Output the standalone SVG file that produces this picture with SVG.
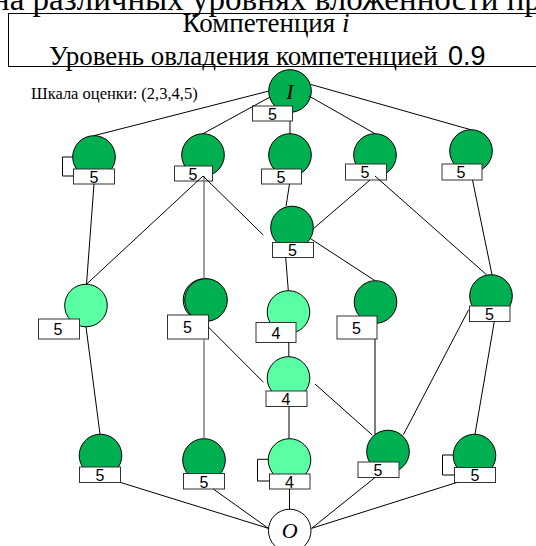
<svg xmlns="http://www.w3.org/2000/svg" width="536" height="546" viewBox="0 0 536 546">
<style>
.dk{fill:#00B050;stroke:#000;stroke-width:1}
.lt{fill:#59FFA2;stroke:#000;stroke-width:1}
.wh{fill:#fff;stroke:#000;stroke-width:1}
.bx{fill:#fff;stroke:#333;stroke-width:1}
.n{font-family:"Liberation Sans",Arial,sans-serif;font-size:16px;text-anchor:middle;fill:#000}
.lbl{font-family:"Liberation Serif","Times New Roman",serif;font-style:italic;font-size:22px;text-anchor:middle;fill:#000}
.sf{font-family:"Liberation Serif","Times New Roman",serif;fill:#000}
#edges line,#edges path{stroke:#000;stroke-width:1;fill:none}
#edges .g{stroke:#777;stroke-width:1.4}
</style>
<rect width="536" height="546" fill="#fff"/>
<text class="sf" x="-8" y="10" font-size="33">на различных уровнях вложенности пр</text>
<g id="header">
<rect x="8.5" y="13.5" width="540" height="53" fill="none" stroke="#000"/>
<text class="sf" x="266" y="32" font-size="27" text-anchor="middle">Компетенция <tspan font-style="italic">i</tspan></text>
<text class="sf" x="49" y="65" font-size="27">Уровень овладения компетенцией</text>
<text x="448" y="65" font-size="27" font-family="Liberation Sans,Arial,sans-serif">0.9</text>
</g>
<text class="sf" x="31" y="99" font-size="16.5">Шкала оценки: (2,3,4,5)</text>

<g id="nI"><circle class="dk" cx="290" cy="91" r="21.3"/><text class="lbl" x="290" y="99">I</text><rect class="bx" x="252.5" y="106" width="40" height="15"/><text class="n" x="272.5" y="119.5">5</text></g>
<g id="nA1"><circle class="dk" cx="94" cy="157" r="21.3"/><rect class="bx" x="73.5" y="169" width="41" height="15"/><text class="n" x="94" y="182.5">5</text></g>
<g id="nA2"><circle class="dk" cx="203" cy="155" r="21.3"/><rect class="bx" x="174.5" y="166" width="38" height="15"/><text class="n" x="193" y="179.5">5</text></g>
<g id="nA3"><circle class="dk" cx="290" cy="155" r="21.3"/><rect class="bx" x="261.5" y="169" width="40" height="15"/><text class="n" x="281" y="182.5">5</text></g>
<g id="nA4"><circle class="dk" cx="375" cy="155" r="21.3"/><rect class="bx" x="345.5" y="164" width="41" height="16"/><text class="n" x="365" y="178">5</text></g>
<g id="nA5"><circle class="dk" cx="471" cy="151" r="21.3"/><rect class="bx" x="442" y="164" width="40" height="16"/><text class="n" x="461" y="178">5</text></g>
<g id="nB"><circle class="dk" cx="292" cy="227.5" r="21.3"/><rect class="bx" x="272.5" y="242.5" width="41" height="15"/><text class="n" x="292.5" y="256">5</text></g>
<g id="nC1"><circle class="lt" cx="86" cy="305.5" r="21.3"/><rect class="bx" x="38.5" y="319" width="41" height="20"/><text class="n" x="58" y="335">5</text></g>
<g id="nC2"><circle class="lt" cx="204.5" cy="300" r="21.3"/><circle class="dk" cx="206" cy="300" r="21.3"/><rect class="bx" x="167.5" y="315" width="41" height="24"/><text class="n" x="187.5" y="333">5</text></g>
<g id="nC3"><circle class="lt" cx="288.5" cy="312" r="21.3"/><rect class="bx" x="256" y="322.5" width="40" height="20"/><text class="n" x="276" y="338.5">4</text></g>
<g id="nC4"><circle class="dk" cx="375.5" cy="302" r="21.3"/><rect class="bx" x="337" y="316" width="40" height="23"/><text class="n" x="356.5" y="333.5">5</text></g>
<g id="nC5"><circle class="dk" cx="491" cy="296" r="21.3"/><rect class="bx" x="469.5" y="306" width="40.5" height="15.5"/><text class="n" x="489.5" y="320">5</text></g>
<g id="nD"><circle class="lt" cx="288.5" cy="378" r="21.3"/><rect class="bx" x="266" y="391" width="41" height="15.5"/><text class="n" x="286" y="405">4</text></g>
<g id="nE1"><circle class="dk" cx="100.5" cy="455.5" r="21.3"/><rect class="bx" x="79.5" y="467" width="41" height="15.5"/><text class="n" x="100" y="481">5</text></g>
<g id="nE2"><circle class="dk" cx="204" cy="460" r="21.3"/><rect class="bx" x="183.5" y="473.5" width="41" height="15.5"/><text class="n" x="204" y="487.5">5</text></g>
<g id="nE3"><circle class="lt" cx="289.5" cy="460" r="21.3"/><rect class="bx" x="269.5" y="474" width="40.5" height="15"/><text class="n" x="289.5" y="487.5">4</text></g>
<g id="nE4"><circle class="dk" cx="388" cy="451.5" r="21.3"/><rect class="bx" x="358" y="462" width="41" height="15.5"/><text class="n" x="378" y="476">5</text></g>
<g id="nE5"><circle class="dk" cx="474.5" cy="455.5" r="21.3"/><rect class="bx" x="454.5" y="467.5" width="41" height="15"/><text class="n" x="475" y="481">5</text></g>
<g id="nO"><circle class="wh" cx="289.7" cy="530.5" r="21.3"/><text class="lbl" x="289.7" y="538">O</text></g>

<g id="edges">
<line x1="94" y1="135.7" x2="269" y2="91"/>
<line x1="203" y1="133.7" x2="270" y2="97"/>
<line x1="290" y1="121" x2="290" y2="133.7"/>
<line x1="309" y1="96" x2="375" y2="133.7"/>
<line x1="311" y1="84.5" x2="470.7" y2="129.7"/>
<line x1="94" y1="184" x2="86.5" y2="284.2"/>
<line x1="203" y1="176" x2="86.5" y2="284.2"/>
<line class="g" x1="204" y1="176" x2="204" y2="278.7"/>
<line x1="203" y1="176" x2="263.3" y2="235"/>
<line x1="289.5" y1="184" x2="286" y2="206.3"/>
<line x1="370" y1="180" x2="313" y2="229"/>
<line x1="375" y1="176" x2="486.5" y2="274.7"/>
<line x1="472.5" y1="180" x2="492" y2="274.7"/>
<line x1="285.7" y1="257.5" x2="288.3" y2="290.7"/>
<line x1="310" y1="238.3" x2="375" y2="280.7"/>
<line x1="86" y1="326.8" x2="100" y2="434.2"/>
<line class="g" x1="204" y1="339" x2="204" y2="438.7"/>
<line x1="208.3" y1="327" x2="263.5" y2="382.3"/>
<line x1="288.8" y1="342.5" x2="288.8" y2="356.7"/>
<line x1="375" y1="339" x2="375" y2="434.6"/>
<line x1="468.5" y1="310" x2="403.5" y2="434.5"/>
<line x1="494.3" y1="321.5" x2="475" y2="434.3"/>
<line x1="289" y1="406.5" x2="289" y2="438.7"/>
<line x1="315" y1="384" x2="372.3" y2="435"/>
<line x1="120.7" y1="482.5" x2="268.3" y2="528.3"/>
<line x1="213.3" y1="489" x2="268.3" y2="528.3"/>
<line x1="289.5" y1="489" x2="289.5" y2="509.2"/>
<line x1="375" y1="477.5" x2="311.7" y2="528.3"/>
<line x1="456.7" y1="482.5" x2="311.7" y2="528.3"/>
<path d="M72.7 157 H62.5 V176 H73.5"/>
<path d="M268.3 459.3 H257.5 V481 H269.5"/>
<path d="M453.3 455 H442.5 V475 H454.5"/>
</g>
</svg>
